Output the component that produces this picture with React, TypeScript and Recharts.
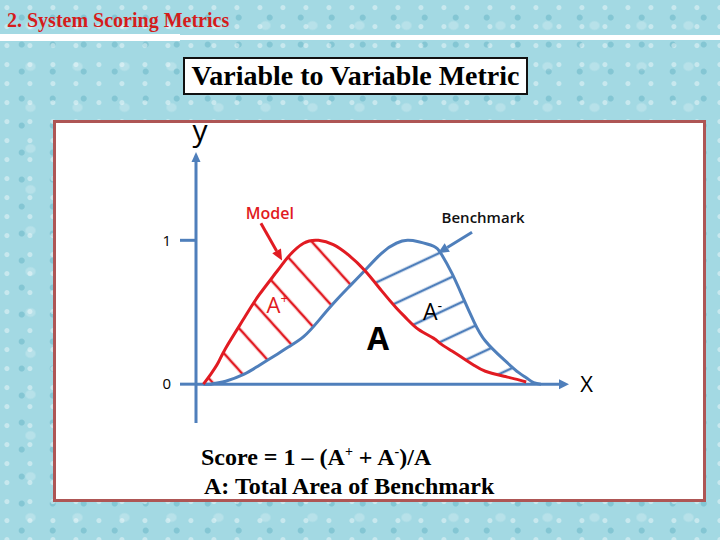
import React from "react";
import { Area, ComposedChart, Line, ReferenceDot, ReferenceLine, XAxis, YAxis } from "recharts";

// x positions shared by both curves (0..100 along the x axis)
const xValues = [2, 4, 6, 8, 13, 17, 22, 25, 29, 33, 37, 41, 45.5, 50, 54, 57, 60, 64, 66, 69, 72, 75, 78, 83, 87, 89, 91, 93];
const modelValues = [0, 0.07, 0.15, 0.25, 0.46, 0.62, 0.79, 0.89, 0.98, 1.0, 0.97, 0.9, 0.79, 0.65, 0.53, 0.45, 0.38, 0.32, 0.28, 0.23, 0.18, 0.13, 0.09, 0.055, 0.03, 0.015, null, null];
const benchmarkValues = [0, 0, 0.01, 0.02, 0.07, 0.13, 0.21, 0.26, 0.33, 0.44, 0.56, 0.67, 0.79, 0.91, 0.98, 1.0, 0.99, 0.96, 0.91, 0.77, 0.6, 0.43, 0.3, 0.17, 0.08, 0.045, 0.01, 0];
const yTicks = [0, 1];

const RED = "#e11b22";
const BLUE = "#4f7fbb";
const SANS = "'Open Sans', 'DejaVu Sans', sans-serif";
const SERIF = "'Liberation Serif', 'Times New Roman', serif";

// text labels on the diagram, in data units (y is the text baseline)
const labels = [
  { x: 19.9, y: 1.146, text: "Model", sup: "", color: RED, size: 16, weight: 600, anchor: "middle" },
  { x: 77.4, y: 1.118, text: "Benchmark", sup: "", color: "#111", size: 15, weight: 600, anchor: "middle" },
  { x: 19.0, y: 0.493, text: "A", sup: "+", color: RED, size: 22, weight: 400, anchor: "start" },
  { x: 49.1, y: 0.236, text: "A", sup: "", color: "#000", size: 32, weight: 700, anchor: "middle" },
  { x: 61.2, y: 0.444, text: "A", sup: "-", color: "#000", size: 23, weight: 400, anchor: "start" },
  { x: 1.1, y: 1.69, text: "y", sup: "", color: "#000", size: 30, weight: 400, anchor: "middle" },
  { x: 105.3, y: -0.056, text: "X", sup: "", color: "#000", size: 22, weight: 400, anchor: "middle" },
];

// pointer arrows from the curve names to the curves
const pointers = [
  { from: { x: 17.5, y: 1.118 }, to: { x: 23.2, y: 0.86 }, color: RED },
  { from: { x: 74.4, y: 1.056 }, to: { x: 65.2, y: 0.91 }, color: BLUE },
];

const rows = xValues.map((x, i) => {
  const m = modelValues[i];
  const b = benchmarkValues[i];
  return {
    x,
    model: m,
    benchmark: b,
    aPlus: m != null && m >= b ? [b, m] : null,
    aMinus: m != null && b >= m ? [m, b] : null,
  };
});

function headPoints(tx: number, ty: number, fx: number, fy: number, len: number, half: number) {
  const a = Math.atan2(ty - fy, tx - fx);
  const bx = tx - len * Math.cos(a);
  const by = ty - len * Math.sin(a);
  const px = -Math.sin(a) * half;
  const py = Math.cos(a) * half;
  return { pts: `${tx},${ty} ${bx + px},${by + py} ${bx - px},${by - py}`, bx, by };
}

function arrow(fx: number, fy: number, tx: number, ty: number, color: string, width: number, len: number, half: number) {
  const h = headPoints(tx, ty, fx, fy, len, half);
  return (
    <g>
      <line x1={fx} y1={fy} x2={h.bx} y2={h.by} stroke={color} strokeWidth={width} />
      <polygon points={h.pts} fill={color} />
    </g>
  );
}

const xAxisShape = (p: any) => {
  const left = Math.min(p.x1, p.x2);
  const right = Math.max(p.x1, p.x2);
  return arrow(left, p.y1, right + 2, p.y1, BLUE, 3, 10, 5);
};

const yAxisShape = (p: any) => {
  const top = Math.min(p.y1, p.y2);
  const bottom = Math.max(p.y1, p.y2);
  return arrow(p.x1, bottom, p.x1, top - 2, BLUE, 3, 10, 4.5);
};

const pointerShape = (color: string) => (p: any) => arrow(p.x1, p.y1, p.x2, p.y2, color, 3, 11, 5);

const labelShape = (l: (typeof labels)[number]) => (p: any) => (
  <text x={p.cx} y={p.cy} textAnchor={l.anchor} fill={l.color} fontSize={l.size} fontWeight={l.weight} fontFamily={SANS}>
    {l.text}
    {l.sup ? (
      <tspan dy={-l.size * 0.42} fontSize={l.size * 0.62}>
        {l.sup}
      </tspan>
    ) : null}
  </text>
);

const slideBg =
  "radial-gradient(circle at 30% 40%, rgba(255,255,255,0.4) 0 2px, transparent 3px) 0 0/23px 19px," +
  "radial-gradient(circle at 70% 65%, rgba(40,140,165,0.25) 0 2.5px, transparent 3.5px) 0 0/31px 27px," +
  "radial-gradient(ellipse at 50% 50%, rgba(255,255,255,0.22) 0 4px, transparent 6px) 7px 5px/47px 41px," +
  "#a3d9e3";

const supStyle: React.CSSProperties = { fontSize: 14, lineHeight: 0, position: "relative", top: -9, verticalAlign: "baseline" };

export default function App() {
  return (
    <div style={{ position: "fixed", left: 0, top: 0, width: 720, height: 540, background: slideBg, overflow: "hidden" }}>
      <div
        style={{
          position: "absolute", left: 7, top: 9, color: "#d41c1c", fontFamily: SERIF,
          fontWeight: 700, fontSize: 20, lineHeight: "22px", whiteSpace: "nowrap",
        }}
      >
        2. System Scoring Metrics
      </div>
      <div style={{ position: "absolute", left: 0, top: 35, width: 720, height: 5, background: "#fff" }} />
      <div style={{ position: "absolute", left: 0, top: 34, width: 180, height: 7, background: "#fff" }} />

      <div
        style={{
          position: "absolute", left: 183, top: 57, width: 341, height: 34, background: "#fff",
          border: "2px solid #111", fontFamily: SERIF, fontWeight: 700, fontSize: 28,
          lineHeight: "34px", textAlign: "center", whiteSpace: "nowrap", color: "#000",
        }}
      >
        Variable to Variable Metric
      </div>

      <div
        style={{
          position: "absolute", left: 53, top: 120, width: 647, height: 376, background: "#fff",
          border: "3px solid #ae5655",
        }}
      />

      <div style={{ position: "absolute", left: 0, top: 0 }}>
        <ComposedChart
          width={720}
          height={540}
          data={rows}
          margin={{ top: 154, right: 153, bottom: 117, left: 156 }}
        >
          <defs>
            <pattern id="hatch-plus" patternUnits="userSpaceOnUse" width="60" height="28" patternTransform="rotate(48)">
              <line x1="0" y1="14" x2="60" y2="14" stroke={RED} strokeWidth={2.6} />
            </pattern>
            <pattern id="hatch-minus" patternUnits="userSpaceOnUse" width="60" height="27" patternTransform="rotate(-25)">
              <line x1="0" y1="10" x2="60" y2="10" stroke={BLUE} strokeWidth={2.6} />
            </pattern>
          </defs>
          <XAxis dataKey="x" type="number" domain={[0, 100]} hide />
          <YAxis
            type="number"
            domain={[-0.27, 1.6]}
            ticks={yTicks}
            width={40}
            axisLine={false}
            tickSize={16}
            tickMargin={9}
            tickLine={{ stroke: BLUE, strokeWidth: 3 }}
            tick={{ fill: "#000", fontSize: 15, fontFamily: SANS }}
            allowDataOverflow
          />
          <Area
            dataKey="aPlus"
            type="natural"
            stroke="none"
            fill="url(#hatch-plus)"
            fillOpacity={1}
            isAnimationActive={false}
          />
          <Area
            dataKey="aMinus"
            type="natural"
            stroke="none"
            fill="url(#hatch-minus)"
            fillOpacity={1}
            isAnimationActive={false}
          />
          <ReferenceLine y={0} shape={xAxisShape} ifOverflow="visible" />
          <ReferenceLine x={0} shape={yAxisShape} ifOverflow="visible" />
          <Line dataKey="benchmark" type="natural" stroke={BLUE} strokeWidth={3} dot={false} isAnimationActive={false} />
          <Line dataKey="model" type="natural" stroke={RED} strokeWidth={3} dot={false} isAnimationActive={false} />
          {pointers.map((p, i) => (
            <ReferenceLine key={`p${i}`} segment={[p.from, p.to]} shape={pointerShape(p.color)} ifOverflow="visible" />
          ))}
          {labels.map((l, i) => (
            <ReferenceDot key={`l${i}`} x={l.x} y={l.y} r={0} shape={labelShape(l)} ifOverflow="visible" />
          ))}
        </ComposedChart>
      </div>

      <div
        style={{
          position: "absolute", left: 201, top: 443, fontFamily: SERIF, fontWeight: 700, fontSize: 24,
          lineHeight: "29px", color: "#000", whiteSpace: "nowrap",
        }}
      >
        <div>
          Score = 1 – (A<span style={supStyle}>+</span> + A<span style={supStyle}>-</span>)/A
        </div>
        <div style={{ marginLeft: 3 }}>A: Total Area of Benchmark</div>
      </div>
    </div>
  );
}
